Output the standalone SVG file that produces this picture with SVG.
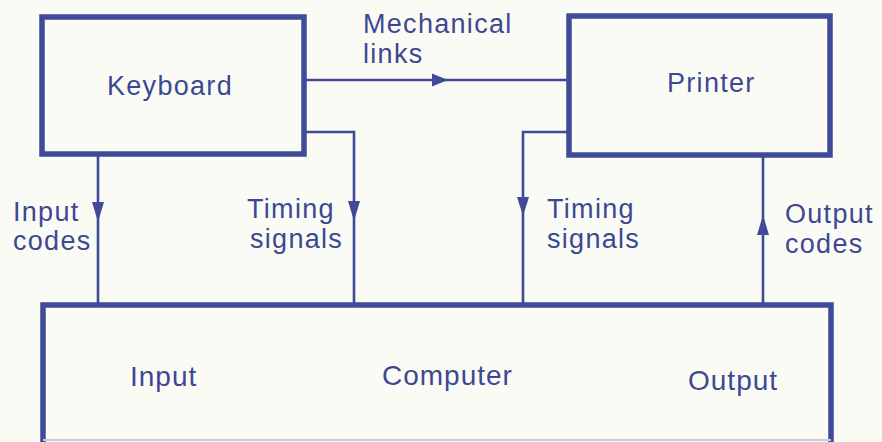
<svg xmlns="http://www.w3.org/2000/svg" width="882" height="442" viewBox="0 0 882 442">
<style>
.box{fill:none;stroke:#3f4a98;stroke-width:5.5}
.ln{fill:none;stroke:#3f4a98;stroke-width:2.6}
.ah{fill:#3f4a98}
text{font-family:"Liberation Sans",Arial,sans-serif;font-size:27px;fill:#3d4892;letter-spacing:1.3px}
.big{font-size:28px;letter-spacing:1px}
</style>
<rect width="882" height="442" fill="#fbfbf6"/>
<g id="keyboard">
<rect class="box" x="42" y="17" width="262" height="137"/>
<text x="107" y="95">Keyboard</text>
</g>
<g id="printer">
<rect class="box" x="569" y="16" width="261" height="139"/>
<text x="667" y="92">Printer</text>
</g>
<g id="computer">
<path class="box" d="M43 442 V305 H831 V442"/>
<line x1="43" y1="440" x2="831" y2="440" stroke="#c9cbd6" stroke-width="2"/>
<text class="big" x="130" y="386">Input</text>
<text class="big" x="382" y="385">Computer</text>
<text class="big" x="688" y="390">Output</text>
</g>
<g id="connectors">
<line class="ln" x1="304" y1="80" x2="569" y2="80"/>
<polygon class="ah" points="432,73.5 448,80 432,86.5"/>
<line class="ln" x1="98" y1="154" x2="98" y2="305"/>
<polygon class="ah" points="92,202 104,202 98,222"/>
<polyline class="ln" points="304,132 354,132 354,305"/>
<polygon class="ah" points="348,201 360,201 354,221"/>
<polyline class="ln" points="569,132 523,132 523,305"/>
<polygon class="ah" points="517,197 529,197 523,216"/>
<line class="ln" x1="763" y1="155" x2="763" y2="305"/>
<polygon class="ah" points="757,235 769,235 763,215"/>
</g>
<g id="labels">
<text x="363" y="33">Mechanical</text>
<text x="363" y="63">links</text>
<text x="13" y="221">Input</text>
<text x="13" y="250">codes</text>
<text x="247" y="218">Timing</text>
<text x="250" y="248">signals</text>
<text x="547" y="218">Timing</text>
<text x="547" y="248">signals</text>
<text x="785" y="223">Output</text>
<text x="785" y="253">codes</text>
</g>
</svg>
